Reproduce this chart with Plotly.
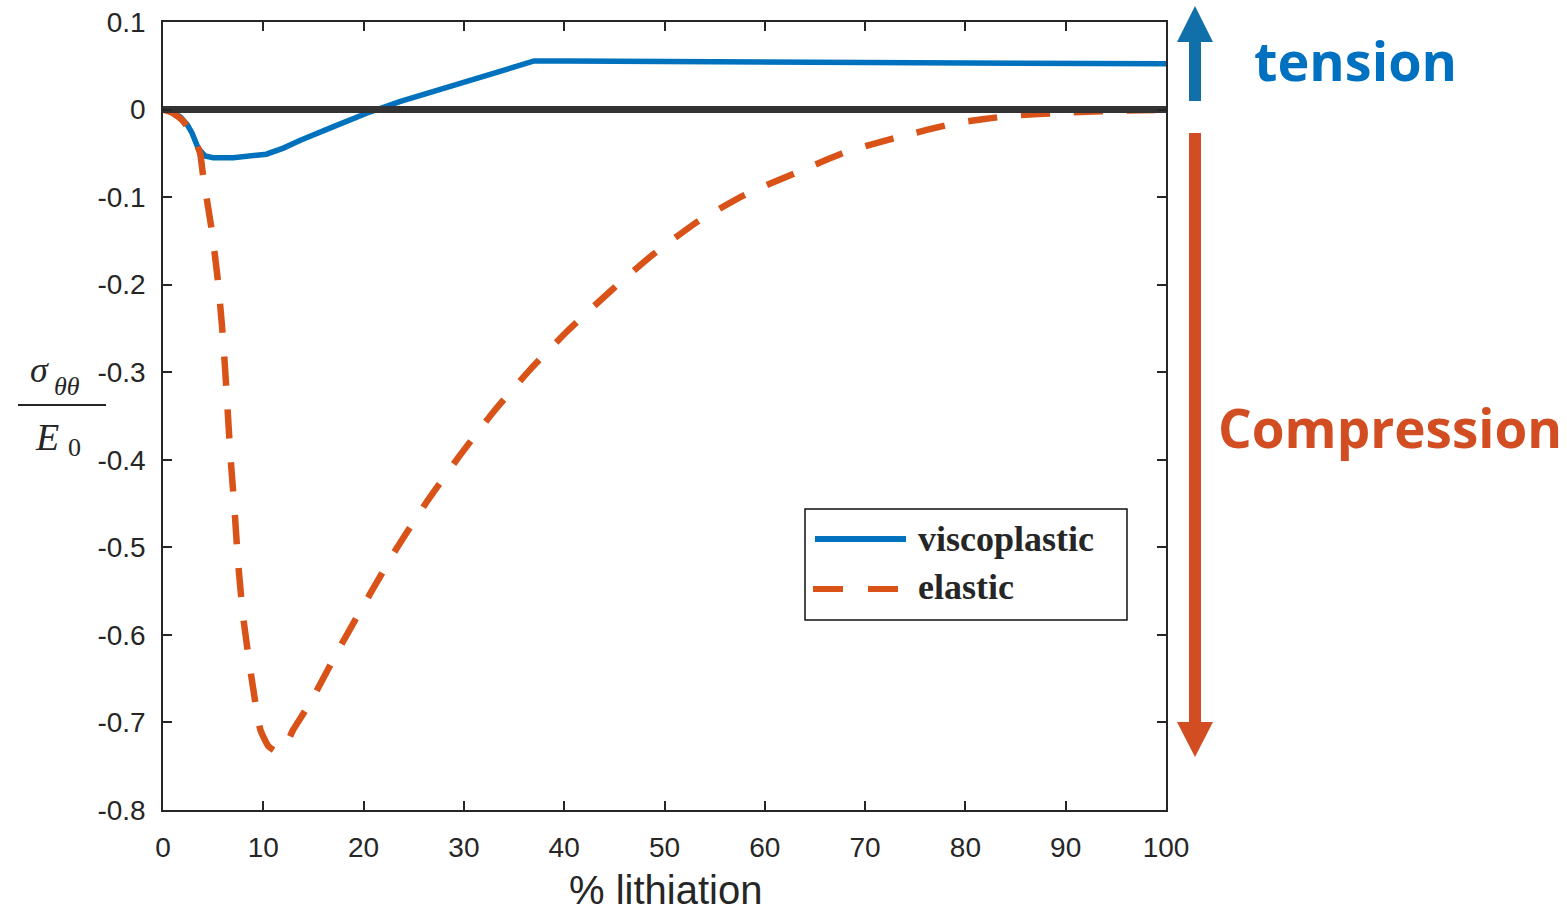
import plotly.graph_objects as go

# ---------------- data ----------------
x_visco = [0, 0.8, 1.7, 2.4, 2.9, 3.5, 4.2, 5.0, 7.0, 9.0, 10.3, 12.0, 13.7, 17.0, 20.3,
           23.6, 27.0, 30.0, 33.5, 37.0, 40.0, 50.0, 60.0, 70.0, 80.0, 90.0, 100.0]
y_visco = [0, -0.002, -0.008, -0.017, -0.027, -0.044, -0.053, -0.055, -0.055, -0.0535, -0.051,
           -0.044, -0.035, -0.0195, -0.0042, 0.009, 0.021, 0.0315, 0.0435, 0.0555, 0.0555,
           0.055, 0.0547, 0.0543, 0.0537, 0.053, 0.0522]

x_elastic = [0, 1, 2, 3, 3.7, 4.0, 4.85, 5.5, 6.0, 6.35, 6.7, 7.1, 7.5, 8.0, 8.8, 9.7, 10.5,
             11.3, 12.2, 13.0, 14.7, 17.3, 20.6, 23.3, 26.3, 29.6, 32.9, 36.6, 40.4, 44.6,
             48.7, 53.3, 58.0, 63.0, 68.2, 73.5, 79.0, 84.4, 90.1, 95.6, 100]
y_elastic = [0, -0.004, -0.013, -0.03, -0.05, -0.076, -0.137, -0.198, -0.264, -0.325, -0.392,
             -0.452, -0.519, -0.58, -0.647, -0.708, -0.727, -0.733, -0.726, -0.708, -0.677,
             -0.621, -0.554, -0.501, -0.448, -0.395, -0.346, -0.297, -0.252, -0.2075, -0.167,
             -0.128, -0.0975, -0.0727, -0.048, -0.031, -0.0156, -0.0073, -0.0035, -0.0012,
             -0.0005]

x_zero = [0, 100]
y_zero = [0, 0]

series_names = ["viscoplastic", "elastic"]
x_tickvals = [0, 10, 20, 30, 40, 50, 60, 70, 80, 90, 100]
x_ticktext = ["0", "10", "20", "30", "40", "50", "60", "70", "80", "90", "100"]
y_tickvals = [0.1, 0, -0.1, -0.2, -0.3, -0.4, -0.5, -0.6, -0.7, -0.8]
y_ticktext = ["0.1", "0", "-0.1", "-0.2", "-0.3", "-0.4", "-0.5", "-0.6", "-0.7", "-0.8"]
x_title = "% lithiation"
label_tension = "tension"
label_compression = "Compression"

# ---------------- style ----------------
BLUE = "#0072BD"
ORANGE = "#D95319"
AXC = "#262626"
W, H = 1567, 915
L, R, T, B = 163, 401, 22, 105
PW, PH = W - L - R, H - T - B


def px(xp):
    return (xp - L) / PW


def py(yp):
    return (H - B - yp) / PH


fig = go.Figure()
fig.add_trace(go.Scatter(x=x_visco, y=y_visco, mode="lines", name=series_names[0],
                         line=dict(color=BLUE, width=5.5), showlegend=False))
fig.add_trace(go.Scatter(x=x_elastic, y=y_elastic, mode="lines", name=series_names[1],
                         line=dict(color=ORANGE, width=6.5, dash="29px,24px",
                                   shape="spline", smoothing=0.5), showlegend=False))
fig.add_trace(go.Scatter(x=x_zero, y=y_zero, mode="lines", hoverinfo="skip",
                         line=dict(color="#333333", width=7), showlegend=False))

axis_common = dict(showgrid=False, zeroline=False, showline=True, linecolor=AXC, linewidth=1.5,
                   mirror="ticks", ticks="inside", ticklen=9, tickwidth=1.5, tickcolor=AXC,
                   tickfont=dict(family="Liberation Sans, Arial", size=28, color=AXC))

fig.update_xaxes(range=[0, 100], tickmode="array", tickvals=x_tickvals, ticktext=x_ticktext,
                 ticklabelstandoff=12, **axis_common)
fig.update_yaxes(range=[-0.8, 0.1], tickmode="array", tickvals=y_tickvals, ticktext=y_ticktext,
                 ticklabelstandoff=10, **axis_common)

shapes = []
# legend box and samples
shapes.append(dict(type="rect", xref="paper", yref="paper", x0=px(805), x1=px(1127),
                   y0=py(620), y1=py(509), line=dict(color="#111111", width=1.5),
                   fillcolor="white", layer="above"))
shapes.append(dict(type="line", xref="paper", yref="paper", x0=px(815), x1=px(906),
                   y0=py(539), y1=py(539), line=dict(color=BLUE, width=6)))
shapes.append(dict(type="line", xref="paper", yref="paper", x0=px(813), x1=px(906),
                   y0=py(589), y1=py(589), line=dict(color=ORANGE, width=6, dash="30px,25px")))
# tension arrow
ARROW_BLUE = "#1170AA"
shapes.append(dict(type="rect", xref="paper", yref="paper", x0=px(1189), x1=px(1201),
                   y0=py(101), y1=py(40), fillcolor=ARROW_BLUE, line=dict(width=0)))
shapes.append(dict(type="path", xref="paper", yref="paper",
                   path="M %f %f L %f %f L %f %f Z" % (px(1177), py(42), px(1213), py(42),
                                                       px(1195), py(6)),
                   fillcolor=ARROW_BLUE, line=dict(width=0)))
# compression arrow
ARROW_OR = "#D24E22"
shapes.append(dict(type="rect", xref="paper", yref="paper", x0=px(1189), x1=px(1201),
                   y0=py(724), y1=py(133), fillcolor=ARROW_OR, line=dict(width=0)))
shapes.append(dict(type="path", xref="paper", yref="paper",
                   path="M %f %f L %f %f L %f %f Z" % (px(1177), py(722), px(1213), py(722),
                                                       px(1195), py(757)),
                   fillcolor=ARROW_OR, line=dict(width=0)))
# fraction bar of y label
shapes.append(dict(type="line", xref="paper", yref="paper", x0=px(18), x1=px(106),
                   y0=py(405), y1=py(405), line=dict(color=AXC, width=2)))

serif = "Liberation Serif, Times New Roman, serif"
ann = []


def add_text(text, xp, yp, size, color, family, xanchor="left", yanchor="middle"):
    ann.append(dict(text=text, x=px(xp), y=py(yp), xref="paper", yref="paper",
                    xanchor=xanchor, yanchor=yanchor, showarrow=False,
                    font=dict(size=size, color=color, family=family)))


add_text("<b>" + series_names[0] + "</b>", 916, 539, 36, AXC, serif)
add_text("<b>" + series_names[1] + "</b>", 916, 587, 36, AXC, serif)
add_text(x_title, 665, 890, 40, AXC, "Liberation Sans, Arial", xanchor="center")
add_text("<b>" + label_tension + "</b>", 1252, 60, 54, "#0070C0", "Open Sans")
add_text("<b>" + label_compression + "</b>", 1216, 428, 53, "#D24E22", "Open Sans")
# y label  sigma_theta theta / E_0
add_text("<i>σ</i>", 28, 370, 36, AXC, serif)
add_text("<i>θθ</i>", 52, 386, 26, AXC, serif)
add_text("<i>E</i>", 33, 437, 38, AXC, serif)
add_text("0", 66, 447, 26, AXC, serif)

fig.update_layout(width=W, height=H, margin=dict(l=L, r=R, t=T, b=B, autoexpand=False),
                  plot_bgcolor="white", paper_bgcolor="white", shapes=shapes, annotations=ann,
                  showlegend=False)

fig.write_html("out.html", config={"displayModeBar": False},
               post_script="document.body.style.margin='0';document.body.style.overflow='hidden';")
